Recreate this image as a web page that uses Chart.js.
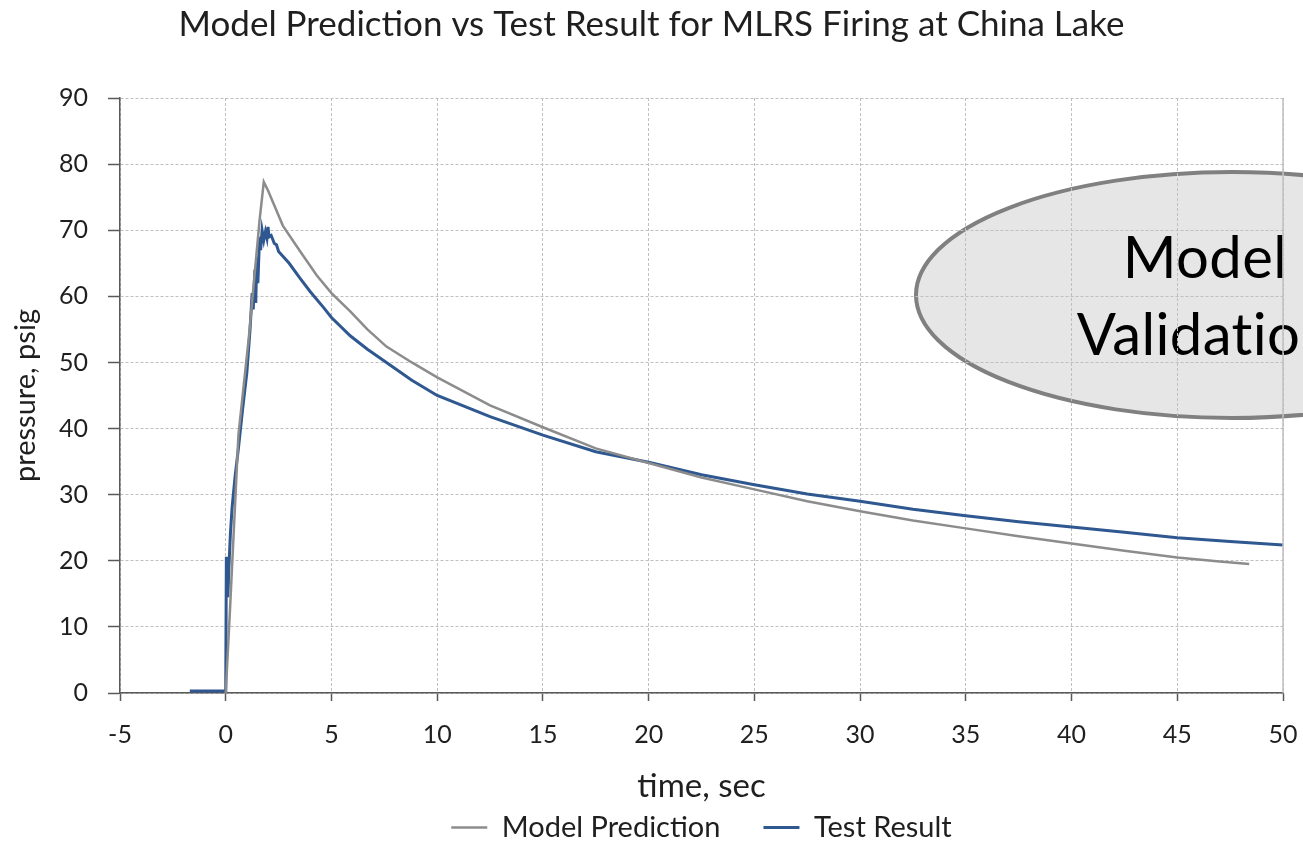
<!DOCTYPE html>
<html>
<head>
<meta charset="utf-8">
<script src="https://cdn.jsdelivr.net/npm/chart.js@4.4.1/dist/chart.umd.min.js"></script>
<style>
html,body{margin:0;padding:0;background:#fff;}
#wrap{width:1303px;height:842px;position:relative;}
</style>
</head>
<body>
<div id="wrap"><canvas id="c" width="1303" height="842"></canvas></div>
<script>
const chartTitle = "Model Prediction vs Test Result for MLRS Firing at China Lake";
const xTitle = "time, sec";
const yTitle = "pressure, psig";
const seriesNames = ["Model Prediction", "Test Result"];

const modelTime = [0.0, 0.2, 0.6, 1.1, 1.6, 1.8, 2.0, 2.7, 3.5, 4.3, 5.0, 5.9, 6.7, 7.6, 8.8, 10.0, 12.5, 15.0, 17.5, 20.0, 22.5, 25.0, 27.5, 30.0, 32.5, 35.0, 37.5, 40.0, 42.5, 45.0, 47.0, 48.4];
const modelPressure = [0.0, 12.5, 39.0, 54.0, 71.5, 77.3, 76.0, 70.7, 66.9, 63.2, 60.5, 57.7, 55.0, 52.4, 50.0, 47.75, 43.5, 40.2, 37.0, 34.8, 32.6, 30.8, 29.0, 27.5, 26.1, 24.9, 23.7, 22.6, 21.5, 20.5, 19.9, 19.5];

const testTime = [-1.7, -0.05, 0.0, 0.03, 0.07, 0.1, 0.15, 0.22, 0.3, 0.45, 0.6, 0.8, 1.0, 1.15, 1.25, 1.3, 1.38, 1.42, 1.47, 1.52, 1.6, 1.65, 1.72, 1.8, 1.88, 1.95, 2.0, 2.05, 2.15, 2.3, 2.4, 2.5, 3.0, 3.5, 4.0, 4.6, 5.0, 5.9, 6.7, 7.6, 8.8, 10.0, 12.5, 15.0, 17.5, 20.0, 22.5, 25.0, 27.5, 30.0, 32.5, 35.0, 37.5, 40.0, 42.5, 45.0, 47.5, 50.0];
const testPressure = [0.3, 0.3, 0.3, 20.6, 15.0, 14.5, 19.0, 24.0, 28.0, 33.0, 37.0, 43.0, 48.5, 55.0, 60.5, 58.0, 64.0, 59.0, 66.0, 62.0, 69.0, 67.0, 70.0, 68.5, 69.8, 68.8, 70.5, 69.0, 69.2, 68.0, 67.8, 66.8, 65.0, 62.8, 60.7, 58.4, 56.8, 54.0, 52.0, 50.0, 47.3, 45.0, 41.8, 39.0, 36.5, 34.9, 33.0, 31.5, 30.1, 29.0, 27.8, 26.8, 25.9, 25.1, 24.3, 23.5, 22.9, 22.4];

const xMin = -5, xMax = 50, xStep = 5;
const yMin = 0, yMax = 90, yStep = 10;

const calloutLines = ["Model", "Validation"];

const FONT = "Lato, 'Open Sans', sans-serif";
const TEXT = '#1f1f1f';

function pts(xs, ys){ return xs.map((x,i)=>({x:x, y:ys[i]})); }

const calloutPlugin = {
  id: 'callout',
  beforeDraw(chart){
    const ctx = chart.ctx;
    ctx.save();
    ctx.beginPath();
    ctx.ellipse(1232, 295, 316, 123, 0, 0, Math.PI*2);
    ctx.fillStyle = '#E6E6E6';
    ctx.fill();
    ctx.lineWidth = 4;
    ctx.strokeStyle = '#808080';
    ctx.stroke();
    ctx.fillStyle = '#000';
    ctx.font = "58px " + FONT;
    try { ctx.letterSpacing = '0.4px'; } catch(e) {}
    ctx.textAlign = 'center';
    ctx.textBaseline = 'alphabetic';
    ctx.fillText(calloutLines[0], 1205, 278);
    ctx.fillText(calloutLines[1], 1205, 355);
    ctx.restore();
  },
  afterDatasetsDraw(chart){
    const a = chart.chartArea, ctx = chart.ctx;
    ctx.save();
    ctx.strokeStyle = '#BFBFBF';
    ctx.lineWidth = 1.5;
    ctx.beginPath();
    ctx.moveTo(a.right, a.top);
    ctx.lineTo(a.right, a.bottom);
    ctx.stroke();
    ctx.restore();
  }
};

new Chart(document.getElementById('c'), {
  type: 'scatter',
  data: {
    datasets: [
      {
        label: seriesNames[0],
        data: pts(modelTime, modelPressure),
        showLine: true,
        borderColor: '#8C8C8C',
        backgroundColor: '#8C8C8C',
        borderWidth: 2.5,
        pointRadius: 0,
        tension: 0,
        pointStyle: 'line'
      },
      {
        label: seriesNames[1],
        data: pts(testTime, testPressure),
        showLine: true,
        borderColor: '#2F5790',
        backgroundColor: '#2F5790',
        borderWidth: 3,
        pointRadius: 0,
        tension: 0,
        pointStyle: 'line'
      }
    ]
  },
  options: {
    responsive: false,
    animation: false,
    layout: { padding: { left: 0, right: 0, top: 0, bottom: -10 } },
    plugins: {
      title: {
        display: true,
        text: chartTitle,
        color: TEXT,
        font: { family: FONT, size: 35, weight: 'normal' },
        padding: { top: 4, bottom: 52 }
      },
      legend: {
        position: 'bottom',
        fullSize: false,
        labels: {
          usePointStyle: true,
          pointStyleWidth: 36,
          color: TEXT,
          font: { family: FONT, size: 29 },
          padding: 43
        }
      },
      tooltip: { enabled: false }
    },
    scales: {
      x: {
        type: 'linear',
        min: xMin, max: xMax,
        ticks: { stepSize: xStep, color: TEXT, font: { family: FONT, size: 25 }, padding: 19 },
        grid: { color: '#BFBFBF', lineWidth: 1, tickColor: '#595959', tickLength: 8, tickBorderDash: [], tickWidth: 1.5 },
        border: { display: true, color: '#595959', width: 1.5, dash: [3,2] },
        title: { display: true, text: xTitle, color: TEXT, font: { family: FONT, size: 33 }, padding: { top: 0, bottom: -36 } },
        afterFit(s){ s.height = 77; s.paddingLeft = 0; s.paddingRight = 20; }
      },
      y: {
        type: 'linear',
        min: yMin, max: yMax,
        ticks: { stepSize: yStep, color: TEXT, font: { family: FONT, size: 25 }, padding: 20 },
        grid: { color: '#BFBFBF', lineWidth: 1, tickColor: '#595959', tickLength: 12, tickBorderDash: [], tickWidth: 1.5 },
        border: { display: true, color: '#595959', width: 1.5, dash: [3,2] },
        title: { display: true, text: yTitle, color: TEXT, font: { family: FONT, size: 29 }, padding: { top: 8, bottom: 0 } },
        afterFit(s){ s.width = 120; s.paddingTop = 0; s.paddingBottom = 0; }
      }
    }
  },
  plugins: [calloutPlugin]
});
</script>
</body>
</html>
